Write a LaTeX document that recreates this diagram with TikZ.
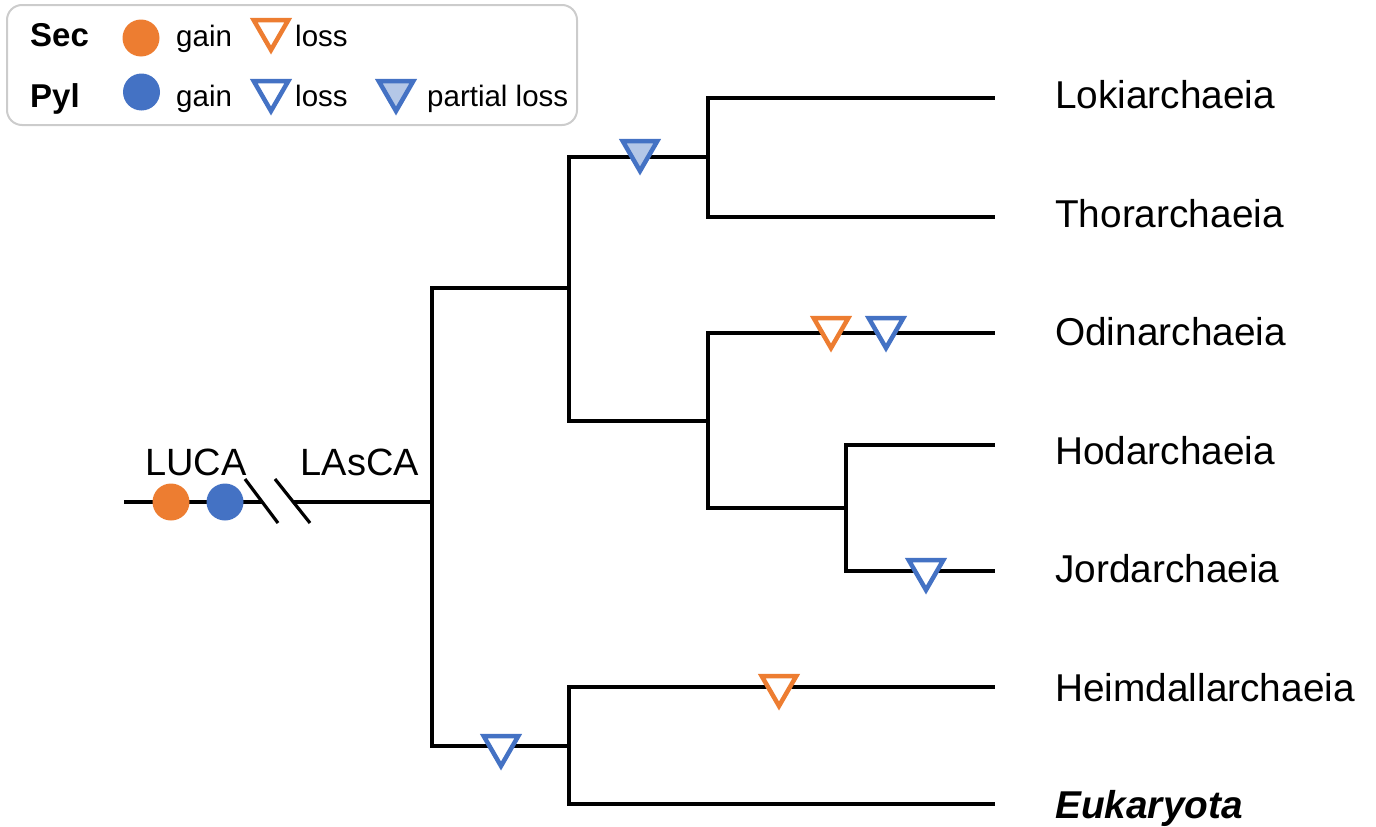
\documentclass[tikz,border=0pt]{standalone}
\usepackage{fontspec}
\setmainfont{Liberation Sans}
\usetikzlibrary{shapes.geometric}
\definecolor{secO}{HTML}{ED7D31}
\definecolor{pylB}{HTML}{4472C4}
\definecolor{pylL}{HTML}{B4C7E7}
\definecolor{legG}{HTML}{CCCCCC}
\begin{document}
\begin{tikzpicture}[x=1pt,y=-1pt,
  branch/.style={line width=3.2pt},
  tri/.style={regular polygon, regular polygon sides=3, shape border rotate=180,
    minimum size=40pt, inner sep=0pt, line width=4.5pt, fill=white},
  lossSec/.style={tri, draw=secO},
  lossPyl/.style={tri, draw=pylB},
  partPyl/.style={tri, draw=pylB, fill=pylL},
  gainSec/.style={circle, fill=secO, minimum size=#1, inner sep=0pt},
  gainPyl/.style={circle, fill=pylB, minimum size=#1, inner sep=0pt},
  taxon/.style={anchor=base west, inner sep=0pt, font=\fontsize{38.8}{44}\selectfont},
  anc/.style={anchor=base, inner sep=0pt, font=\fontsize{38}{44}\selectfont},
  legtxt/.style={anchor=base west, inner sep=0pt, font=\fontsize{29.5}{34}\selectfont},
  leghead/.style={anchor=base west, inner sep=0pt, font=\fontsize{33}{38}\selectfont\bfseries},
]
\useasboundingbox (0,0) rectangle (1376,827);

% legend
\node[draw=legG, line width=2pt, rounded corners=15pt, minimum width=570pt,
  minimum height=120pt, inner sep=0pt] (legend) at (292,65) {};
\node[leghead] (lSec) at (30,46) {Sec};
\node[leghead] (lPyl) at (30,107) {Pyl};
\node[gainSec=37pt] (lgSec) at (141,38) {};
\node[legtxt] (lgSecT) at (176,46) {gain};
\node[lossSec] (llSec) at (271,30) {};
\node[legtxt] (llSecT) at (295,46) {loss};
\node[gainPyl=37pt] (lgPyl) at (141.5,92) {};
\node[legtxt] (lgPylT) at (176,106) {gain};
\node[lossPyl] (llPyl) at (271,91) {};
\node[legtxt] (llPylT) at (295,106) {loss};
\node[partPyl] (lpPyl) at (396,91) {};
\node[legtxt] (lpPylT) at (427,106) {partial loss};

% tree coordinates
\coordinate (root) at (124,502);
\coordinate (brkL) at (262,502);
\coordinate (brkR) at (293,502);
\coordinate (lasca) at (432,502);
\coordinate (nB) at (569,288);
\coordinate (nH) at (569,746);
\coordinate (nC) at (708,157);
\coordinate (nD) at (708,421);
\coordinate (nE) at (846,508);
\coordinate (lLoki) at (995,98);
\coordinate (lThor) at (995,217);
\coordinate (lOdin) at (995,333);
\coordinate (lHod) at (995,445);
\coordinate (lJord) at (995,571);
\coordinate (lHeim) at (995,687);
\coordinate (lEuk) at (995,804);
\coordinate (s1a) at (245,479);
\coordinate (s1b) at (278,523);
\coordinate (s2a) at (275,479);
\coordinate (s2b) at (310,523);

% branches
\draw[branch] (root) -- (brkL);
\draw[branch] (brkR) -- (lasca);
\draw[branch] (s1a) -- (s1b);
\draw[branch] (s2a) -- (s2b);
\draw[branch] (lasca) |- (nB);
\draw[branch] (lasca) |- (nH);
\draw[branch] (nB) |- (nC);
\draw[branch] (nB) |- (nD);
\draw[branch] (nC) |- (lLoki);
\draw[branch] (nC) |- (lThor);
\draw[branch] (nD) |- (lOdin);
\draw[branch] (nD) |- (nE);
\draw[branch] (nE) |- (lHod);
\draw[branch] (nE) |- (lJord);
\draw[branch] (nH) |- (lHeim);
\draw[branch] (nH) |- (lEuk);

% ancestors
\node[gainSec=37pt] (lucaSec) at (171,502) {};
\node[gainPyl=37pt] (lucaPyl) at (225,502) {};
\node[anc] (lucaLbl) at (196,475) {LUCA};
\node[anc] (lascaLbl) at (360,475) {LAsCA};

% events
\node[partPyl] (evLT) at (640,151) {};
\node[lossSec] (evOdS) at (831,328) {};
\node[lossPyl] (evOdP) at (886,328) {};
\node[lossPyl] (evJo) at (926,570) {};
\node[lossSec] (evHe) at (779,686) {};
\node[lossPyl] (evHE) at (501,746) {};

% taxa
\node[taxon] (tLoki) at (1055,108) {Lokiarchaeia};
\node[taxon] (tThor) at (1055,227) {Thorarchaeia};
\node[taxon] (tOdin) at (1055,345) {Odinarchaeia};
\node[taxon] (tHod) at (1055,464) {Hodarchaeia};
\node[taxon] (tJord) at (1055,582) {Jordarchaeia};
\node[taxon] (tHeim) at (1055,701) {Heimdallarchaeia};
\node[taxon] (tEuk) at (1055,818) {\bfseries\itshape Eukaryota};
\end{tikzpicture}
\end{document}
